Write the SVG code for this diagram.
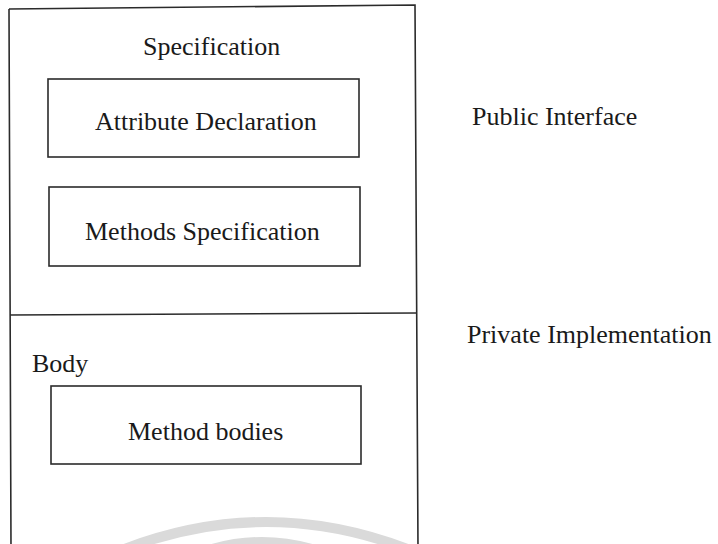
<svg xmlns="http://www.w3.org/2000/svg" width="718" height="544" viewBox="0 0 718 544">
  <style>
    .frame { fill: none; stroke: #2b2b2b; stroke-width: 1.6; }
    .box { fill: none; stroke: #2b2b2b; stroke-width: 1.6; }
    .label { font-family: "Liberation Serif", "Times New Roman", serif; font-size: 26px; fill: #1a1a1a; }
    .mark { fill: none; stroke: #dadada; stroke-width: 10; }
  </style>
  <rect width="718" height="544" fill="#ffffff"/>

  <!-- faint arcs along the bottom edge -->
  <g id="watermark">
    <path class="mark" d="M 112 554 Q 266 490 420 554"/>
    <path class="mark" d="M 178 562 Q 262 522 346 562"/>
  </g>

  <!-- outer class frame with the specification / body divider -->
  <g id="class-frame">
    <path class="frame" d="M 9 9 L 415 5 L 418 548 M 9 9 L 11 548"/>
    <path class="frame" d="M 10 315 L 417 313"/>
  </g>

  <g id="specification">
    <text class="label" x="143" y="55">Specification</text>
  </g>

  <g id="attribute-declaration">
    <rect class="box" x="48" y="79" width="311" height="78"/>
    <text class="label" x="95" y="130">Attribute Declaration</text>
  </g>

  <g id="methods-specification">
    <rect class="box" x="49" y="187" width="311" height="79"/>
    <text class="label" x="85" y="240">Methods Specification</text>
  </g>

  <g id="body">
    <text class="label" x="32" y="372">Body</text>
  </g>

  <g id="method-bodies">
    <rect class="box" x="51" y="386" width="310" height="78"/>
    <text class="label" x="128" y="440">Method bodies</text>
  </g>

  <g id="public-interface">
    <text class="label" x="472" y="125">Public Interface</text>
  </g>

  <g id="private-implementation">
    <text class="label" x="467" y="343">Private Implementation</text>
  </g>

  <g id="connectors"/>
</svg>
